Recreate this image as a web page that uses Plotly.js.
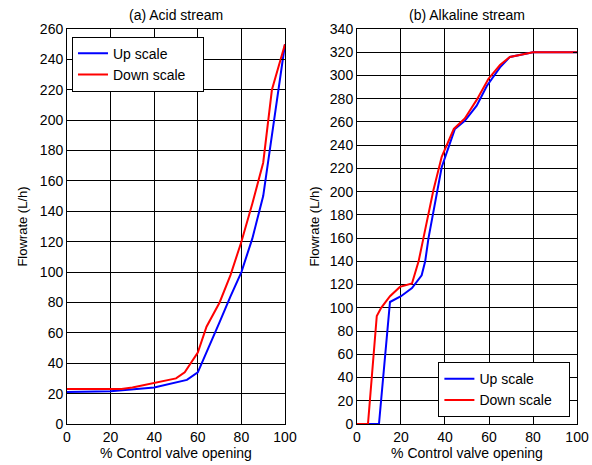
<!DOCTYPE html>
<html><head><meta charset="utf-8">
<script src="https://cdn.plot.ly/plotly-3.0.1.min.js"></script>
<style>html,body{margin:0;padding:0;background:#fff}</style>
</head><body><div id="chart" style="width:592px;height:465px"></div>
<script>
// (a) Acid stream
const acidUpX   = [0, 20, 40, 55, 60, 65, 70, 75, 80, 85, 88, 90, 95, 98, 100];
const acidUpY   = [21, 21.5, 24, 29, 34, 50, 67, 84, 100, 122, 140, 150, 200, 232, 250];
const acidDownX = [0, 25, 30, 40, 50, 54, 60, 64, 70, 75, 80, 85, 90, 94, 100];
const acidDownY = [23, 23, 24, 27, 30, 34, 47, 64, 80, 98, 120, 145, 172, 220, 250];
// (b) Alkaline stream
const alkUpX   = [0, 10, 15, 20, 25, 29.4, 31, 32.5, 38.5, 43, 44.5, 49, 54.4, 59, 65, 69.5, 80, 100];
const alkUpY   = [0, 0, 105, 110, 117, 128, 140, 160, 221, 246, 254, 261, 274, 291, 307, 316, 320, 320];
const alkDownX = [0, 5, 9, 11, 15, 19.5, 25, 28, 30.2, 34.7, 38.5, 44, 49, 54.4, 59.7, 65, 69.5, 80, 100];
const alkDownY = [0, 0, 93, 100, 110, 118, 121, 140, 160, 201, 230, 254, 263, 279, 297, 309, 316, 320, 320];

const seriesNames = ['Up scale', 'Down scale'];
const xTicks = [0, 20, 40, 60, 80, 100];
const acidYTicks = [0,20,40,60,80,100,120,140,160,180,200,220,240,260];
const alkYTicks = [0,20,40,60,80,100,120,140,160,180,200,220,240,260,280,300,320,340];

const font = {family: 'Liberation Sans, Arial, sans-serif', color: '#000'};
const blue = '#0000ff', red = '#ff0000';
const pad = '\u00a0\u00a0\u00a0';

const traces = [
  {x: acidUpX, y: acidUpY, name: seriesNames[0] + pad, mode: 'lines', line: {color: blue, width: 2}, xaxis: 'x', yaxis: 'y', legend: 'legend'},
  {x: acidDownX, y: acidDownY, name: seriesNames[1] + pad, mode: 'lines', line: {color: red, width: 2}, xaxis: 'x', yaxis: 'y', legend: 'legend'},
  {x: alkUpX, y: alkUpY, name: seriesNames[0] + pad, mode: 'lines', line: {color: blue, width: 2}, xaxis: 'x2', yaxis: 'y2', legend: 'legend2'},
  {x: alkDownX, y: alkDownY, name: seriesNames[1] + pad, mode: 'lines', line: {color: red, width: 2}, xaxis: 'x2', yaxis: 'y2', legend: 'legend2'}
];

function ax(extra) {
  return Object.assign({
    showline: true, mirror: 'ticks', linecolor: '#000', linewidth: 1,
    showgrid: true, gridcolor: '#000', gridwidth: 1,
    zeroline: false, ticks: 'inside', ticklen: 4, tickcolor: '#000',
    tickfont: Object.assign({size: 14}, font), fixedrange: true
  }, extra);
}

const ydom = [0.0882, 0.9376];
const layout = {
  width: 592, height: 465,
  margin: {l: 0, r: 0, t: 0, b: 0},
  paper_bgcolor: '#fff', plot_bgcolor: '#fff',
  showlegend: true,
  xaxis: ax({domain: [0.1132, 0.4814], range: [0, 100], tickvals: xTicks, anchor: 'y',
    title: {text: '% Control valve opening', font: Object.assign({size: 14}, font), standoff: 3}}),
  yaxis: ax({domain: ydom, range: [0, 260], tickvals: acidYTicks, anchor: 'x',
    title: {text: 'Flowrate (L/h)', font: Object.assign({size: 13}, font), standoff: 9}}),
  xaxis2: ax({domain: [0.603, 0.9747], range: [0, 100], tickvals: xTicks, anchor: 'y2',
    title: {text: '% Control valve opening', font: Object.assign({size: 14}, font), standoff: 3}}),
  yaxis2: ax({domain: ydom, range: [0, 340], tickvals: alkYTicks, anchor: 'x2',
    title: {text: 'Flowrate (L/h)', font: Object.assign({size: 13}, font), standoff: 7}}),
  legend: {x: 0.1216, y: 0.921, xanchor: 'left', yanchor: 'top', bgcolor: '#fff',
    bordercolor: '#000', borderwidth: 1, font: Object.assign({size: 14}, font), tracegroupgap: 0},
  legend2: {x: 0.9635, y: 0.103, xanchor: 'right', yanchor: 'bottom', bgcolor: '#fff',
    bordercolor: '#000', borderwidth: 1, font: Object.assign({size: 14}, font), tracegroupgap: 0},
  annotations: [
    {text: '(a) Acid stream', xref: 'paper', yref: 'paper', x: 0.2973, y: 0.947, xanchor: 'center', yanchor: 'bottom', showarrow: false, font: Object.assign({size: 14}, font)},
    {text: '(b) Alkaline stream', xref: 'paper', yref: 'paper', x: 0.7889, y: 0.947, xanchor: 'center', yanchor: 'bottom', showarrow: false, font: Object.assign({size: 14}, font)}
  ]
};

Plotly.newPlot('chart', traces, layout, {staticPlot: true, displayModeBar: false});
</script></body></html>
